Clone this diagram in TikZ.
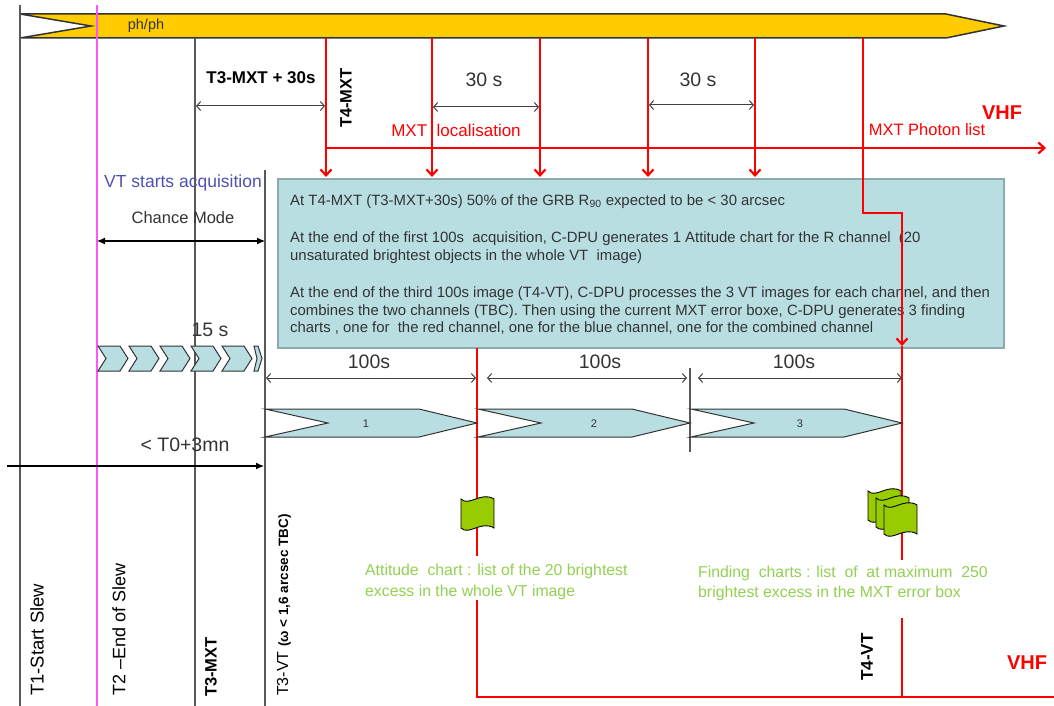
\documentclass[tikz,border=0pt]{standalone}
\usepackage{fontspec}
\setmainfont{Liberation Sans}
\usetikzlibrary{arrows.meta}
\definecolor{barfill}{HTML}{FFCC00}
\definecolor{boxfill}{HTML}{B8DEE2}
\definecolor{boxedge}{HTML}{8DABAE}
\definecolor{redc}{HTML}{FF0000}
\definecolor{greentxt}{HTML}{92D050}
\definecolor{iconfill}{HTML}{99CC00}
\definecolor{txtc}{HTML}{333333}
\definecolor{vtblue}{HTML}{4F4FB5}
\definecolor{magc}{HTML}{FF55FF}
\newcommand{\fsz}[2]{\fontsize{#1}{#2}\selectfont}
\tikzset{
  gline/.style={draw=black!65, line width=1.3pt},
  rline/.style={draw=redc, line width=2.2pt},
  rarrow/.style={rline, -{Straight Barb[length=6pt,width=11pt]}},
  dimarr/.style={draw=black!75, line width=1pt, {Straight Barb[length=4pt,width=9pt]}-{Straight Barb[length=4pt,width=9pt]}},
  fdim/.style={draw=black, line width=1.1pt, {Latex[length=8pt,width=7pt]}-{Latex[length=8pt,width=7pt]}},
  lbl/.style={inner sep=0pt, text=txtc, font=\fsz{19.5}{23}},
  boxtxt/.style={inner sep=0pt, anchor=base west, text=txtc, font=\fsz{14.9}{18}},
  gtxt/.style={inner sep=0pt, anchor=base west, text=greentxt, font=\fsz{15.8}{19}},
  rot/.style={inner sep=0pt, rotate=90, anchor=west, text=black},
  chev/.style={draw=black!80, fill=boxfill, line width=1pt},
  chartico/.pic={
    \draw[fill=iconfill, draw=black, line width=0.9pt]
      (0,4) .. controls (8,12) and (20,-4) .. (33,4) -- (33,33)
      .. controls (20,25) and (8,41) .. (0,33) -- cycle;
  }
}
\begin{document}
\begin{tikzpicture}[x=1pt,y=-1pt]
\useasboundingbox (0,0) rectangle (1054,706);
% ---------- top bar ----------
\draw[fill=barfill, draw=black!80, line width=1.5pt]
  (20,14) -- (946,14) -- (1004,26) -- (946,38) -- (20,38) -- (91,26) -- cycle;
\node[inner sep=0pt, text=txtc, font=\fsz{14.5}{17}] (ph) at (146,26) {ph/ph};
% ---------- vertical time lines ----------
\coordinate (t1top) at (20,5);   \coordinate (t1bot) at (20,706);
\coordinate (t2top) at (97,5);   \coordinate (t2bot) at (97,706);
\coordinate (t3top) at (195,38); \coordinate (t3bot) at (195,706);
\coordinate (tvtop) at (265,170);\coordinate (tvbot) at (265,706);
\draw[gline] (t1top) -- (t1bot);
\draw[draw=magc, line width=1.4pt] (t2top) -- (t2bot);
\draw[gline] (t3top) -- (t3bot);
\draw[gline] (tvtop) -- (tvbot);
\coordinate (sep3a) at (690,368); \coordinate (sep3b) at (690,452);
\draw[gline] (sep3a) -- (sep3b);
% ---------- main box ----------
\draw[fill=boxfill, draw=boxedge, line width=2pt] (278,179) rectangle (1004,348);
\node[boxtxt] (b1) at (290,205) {At T4-MXT (T3-MXT+30s) 50\% of the GRB R\textsubscript{90} expected to be < 30 arcsec};
\node[boxtxt] (b2) at (290,242) {At the end of the first 100s\ \ acquisition, C-DPU generates 1 Attitude chart for the R channel\ \ (20};
\node[boxtxt] (b3) at (290,260) {unsaturated brightest objects in the whole VT\ \ image)};
\node[boxtxt] (b4) at (290,297) {At the end of the third 100s image (T4-VT), C-DPU processes the 3 VT images for each channel, and then};
\node[boxtxt] (b5) at (290,315) {combines the two channels (TBC). Then using the current MXT error boxe, C-DPU generates 3 finding};
\node[boxtxt] (b6) at (290,332) {charts , one for\ \ the red channel, one for the blue channel, one for the combined channel};
% ---------- red lines ----------
\foreach \x [count=\i] in {326,432,540,648,755}{
  \coordinate (rt\i) at (\x,38); \coordinate (rb\i) at (\x,177);
  \draw[rarrow] (rt\i) -- (rb\i);
}
\coordinate (hl0) at (326,148); \coordinate (hl1) at (1046,148);
\draw[rarrow] (hl0) -- (hl1);
\coordinate (pt0) at (863,38); \coordinate (pt1) at (863,213);
\coordinate (pt2) at (902,213); \coordinate (pt3) at (902,346);
\draw[rarrow] (pt0) -- (pt1) -- (pt2) -- (pt3);
\coordinate (pt4) at (902,560); \coordinate (pt5) at (902,618); \coordinate (pt6) at (902,697);
\draw[rline] (pt3) -- (pt4);
\draw[rline] (pt5) -- (pt6);
\coordinate (at0) at (477,348); \coordinate (at1) at (477,556);
\coordinate (at2) at (477,600); \coordinate (at3) at (477,697); \coordinate (at4) at (1054,697);
\draw[rline] (at0) -- (at1);
\draw[rline] (at2) -- (at3) -- (at4);
% ---------- red labels ----------
\node[inner sep=0pt, text=redc, font=\fsz{17}{20}] (mloc) at (456,130) {MXT\ \ localisation};
\node[inner sep=0pt, text=redc, font=\fsz{16.5}{20}] (mpho) at (927,130) {MXT Photon list};
\node[inner sep=0pt, text=redc, font=\bfseries\fsz{20}{24}] (vhf1) at (1002,113) {VHF};
\node[inner sep=0pt, text=redc, font=\bfseries\fsz{20}{24}] (vhf2) at (1027,663) {VHF};
% ---------- top dimensions ----------
\node[inner sep=0pt, font=\bfseries\fsz{17}{20}] (t3p) at (261,78) {T3-MXT + 30s};
\coordinate (d1a) at (196,106); \coordinate (d1b) at (325,106);
\draw[dimarr] (d1a) -- (d1b);
\node[rot, font=\bfseries\fsz{16.5}{20}] (t4mxt) at (346,128) {T4-MXT};
\node[lbl] (s30a) at (484,80) {30 s};
\coordinate (d2a) at (433,107); \coordinate (d2b) at (539,107);
\draw[dimarr] (d2a) -- (d2b);
\node[lbl] (s30b) at (698,80) {30 s};
\coordinate (d3a) at (649,105); \coordinate (d3b) at (754,105);
\draw[dimarr] (d3a) -- (d3b);
% ---------- left area ----------
\node[inner sep=0pt, text=vtblue, font=\fsz{17.5}{21}] (vtst) at (183,183) {VT starts acquisition};
\node[inner sep=0pt, text=txtc, font=\fsz{16.5}{20}] (chm) at (183,218) {Chance Mode};
\coordinate (cm0) at (97,241); \coordinate (cm1) at (265,241);
\draw[fdim] (cm0) -- (cm1);
\node[lbl] (s15) at (210,330) {15 s};
\foreach \i in {0,...,4}{
  \pgfmathsetmacro{\xa}{98+31*\i}
  \draw[chev] (\xa,346) -- (\xa+22,346) -- (\xa+30,358.5) -- (\xa+22,371) -- (\xa,371) -- (\xa+8,358.5) -- cycle;
}
\draw[chev] (254,346) -- (258,346) -- (262,358.5) -- (258,371) -- (254,371) -- (257,358.5) -- cycle;
\node[lbl] (t0) at (185,445) {< T0+3mn};
\coordinate (ta0) at (7,466); \coordinate (ta1) at (264,466);
\draw[draw=black, line width=1.1pt, -{Latex[length=8pt,width=7pt]}] (ta0) -- (ta1);
% ---------- 100s dims & chevrons ----------
\node[lbl] (h1) at (369,362) {100s};
\node[lbl] (h2) at (600,362) {100s};
\node[lbl] (h3) at (794,362) {100s};
\coordinate (e1a) at (266,378); \coordinate (e1b) at (476,378);
\coordinate (e2a) at (487,378); \coordinate (e2b) at (687,378);
\coordinate (e3a) at (698,378); \coordinate (e3b) at (902,378);
\draw[dimarr] (e1a) -- (e1b);
\draw[dimarr] (e2a) -- (e2b);
\draw[dimarr] (e3a) -- (e3b);
\foreach \a/\b/\n/\lx in {265/477/1/366, 478/690/2/594, 691/902/3/800}{
  \draw[chev] (\a,409) -- (\b-58,409) -- (\b,423) -- (\b-58,437) -- (\a,437) -- (\a+63,423) -- cycle;
  \node[inner sep=0pt, text=txtc, font=\fsz{11}{13}] (c\n) at (\lx,424) {\n};
}
% ---------- chart icons ----------
\pic (ico1) at (461,495) {chartico};
\pic (ico2) at (868,487) {chartico};
\pic (ico3) at (876,494) {chartico};
\pic (ico4) at (884,501) {chartico};
\node[gtxt] (g1) at (365,575) {Attitude\ \ chart : list of the 20 brightest};
\node[gtxt] (g2) at (365,596) {excess in the whole VT image};
\node[gtxt] (g3) at (698,577) {Finding\ \ charts : list\ \ of\ \ at maximum\ \ 250};
\node[gtxt] (g4) at (698,597) {brightest excess in the MXT error box};
% ---------- rotated bottom labels ----------
\node[rot, font=\fsz{18.5}{22}] (lt1) at (37,696) {T1-Start Slew};
\node[rot, font=\fsz{18}{22}] (lt2) at (119,696) {T2 –End of Slew};
\node[rot, font=\bfseries\fsz{16.5}{20}] (lt3) at (211,697) {T3-MXT};
\node[rot, font=\fsz{16}{20}] (lt4) at (284,696) {T3-VT {\bfseries\fsz{13.5}{16}(ω < 1,6 arcsec TBC)}};
\node[rot, font=\bfseries\fsz{17}{20}] (lt5) at (867,681) {T4-VT};
\end{tikzpicture}
\end{document}
